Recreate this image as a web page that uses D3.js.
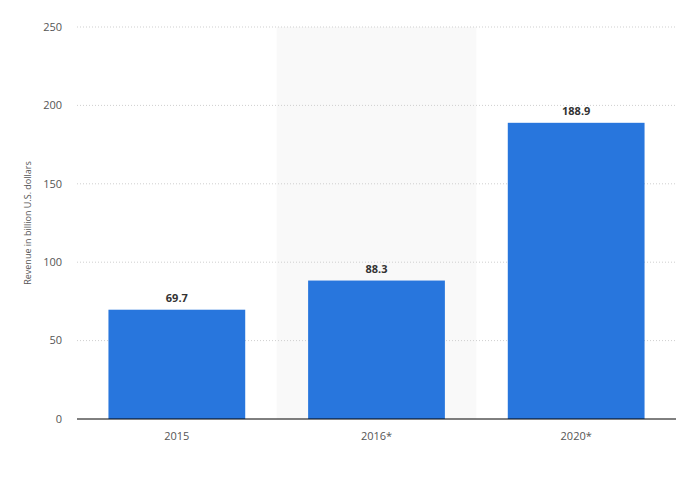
<!DOCTYPE html>
<html><head><meta charset="utf-8">
<script src="https://cdn.jsdelivr.net/npm/d3@7"></script>
<style>body{margin:0;background:#fff}text{font-family:"Open Sans",sans-serif}</style>
</head><body>
<svg id="chart" width="690" height="480"></svg>
<script>
const years = ["2015", "2016*", "2020*"]
const revenue = [69.7, 88.3, 188.9]
const yTicks = [0, 50, 100, 150, 200, 250]

let svg = d3.select("#chart")
let m = {top: 27, left: 77, right: 14, bottom: 61}
let w = 690 - m.left - m.right, h = 480 - m.top - m.bottom
let g = svg.append("g").attr("transform", `translate(${m.left},${m.top})`)

let x = d3.scaleBand().domain(years).range([0, w]).paddingInner(0).paddingOuter(0)
let y = d3.scaleLinear().domain([0, 250]).range([h, 0])

// highlighted band
g.append("rect").attr("x", x("2016*")).attr("y", 0).attr("width", x.bandwidth()).attr("height", h).attr("fill", "#f9f9f9")

yTicks.forEach(t => {
    if (t > 0) g.append("line").attr("x1", 0).attr("x2", w).attr("y1", y(t)).attr("y2", y(t))
        .attr("stroke", "#cfcfcf").attr("stroke-dasharray", "1,2")
    g.append("text").attr("x", -15).attr("y", y(t)).attr("dy", "0.35em").attr("text-anchor", "end")
        .attr("font-size", 11).attr("fill", "#555").text(t)
})

let bw = x.bandwidth() * 0.685
years.forEach((yr, i) => {
    let cx = x(yr) + x.bandwidth() / 2
    g.append("rect").attr("x", cx - bw / 2).attr("y", y(revenue[i])).attr("width", bw)
        .attr("height", h - y(revenue[i])).attr("fill", "#2876dd")
    g.append("text").attr("x", cx).attr("y", y(revenue[i]) - 8).attr("text-anchor", "middle")
        .attr("font-size", 11).attr("font-weight", "bold").attr("fill", "#333").text(revenue[i])
    g.append("text").attr("x", cx).attr("y", h + 21).attr("text-anchor", "middle")
        .attr("font-size", 11).attr("fill", "#555").text(yr)
})

g.append("line").attr("x1", 0).attr("x2", w).attr("y1", h).attr("y2", h).attr("stroke", "#000")

svg.append("text").attr("transform", `translate(31,${m.top + h / 2}) rotate(-90)`)
    .attr("text-anchor", "middle").attr("font-size", 9).attr("fill", "#555")
    .text("Revenue in billion U.S. dollars")
</script>
</body></html>
